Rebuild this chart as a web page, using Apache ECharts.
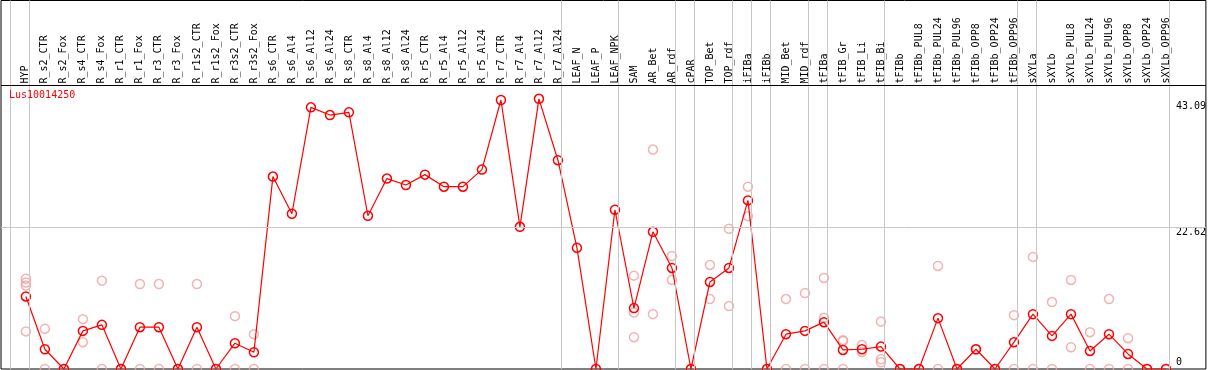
<!DOCTYPE html>
<html>
<head>
<meta charset="utf-8">
<script src="https://cdn.jsdelivr.net/npm/echarts@6/dist/echarts.min.js"></script>
<style>
html,body{margin:0;padding:0;background:#fff;}
#c{width:1209px;height:370px;}
</style>
</head>
<body>
<div id="c"></div>
<script>
const title = 'Lus10014250';
const categories = ['HYP','R_s2_CTR','R_s2_Fox','R_s4_CTR','R_s4_Fox','R_r1_CTR','R_r1_Fox','R_r3_CTR','R_r3_Fox','R_r1s2_CTR','R_r1s2_Fox','R_r3s2_CTR','R_r3s2_Fox',
 'R_s6_CTR','R_s6_Al4','R_s6_Al12','R_s6_Al24','R_s8_CTR','R_s8_Al4','R_s8_Al12','R_s8_Al24','R_r5_CTR','R_r5_Al4','R_r5_Al12','R_r5_Al24','R_r7_CTR','R_r7_Al4','R_r7_Al12','R_r7_Al24',
 'LEAF_N','LEAF_P','LEAF_NPK','SAM','AR_Bet','AR_rdf','cPAR','TOP_Bet','TOP_rdf','iFIBa','iFIBb','MID_Bet','MID_rdf','tFIBa','tFIB_Gr','tFIB_Li','tFIB_Bi','tFIBb',
 'tFIBb_PUL8','tFIBb_PUL24','tFIBb_PUL96','tFIBb_OPP8','tFIBb_OPP24','tFIBb_OPP96','sXYLa','sXYLb','sXYLb_PUL8','sXYLb_PUL24','sXYLb_PUL96','sXYLb_OPP8','sXYLb_OPP24','sXYLb_OPP96'];
const meanValues = [11.57,3.15,0,6.08,7.04,0,6.67,6.67,0,6.67,0,4.11,2.67,
 30.69,24.76,41.73,40.50,40.93,24.44,30.37,29.35,31.00,29.08,29.08,31.80,42.9,22.68,43.09,33.30,19.32,0,
 25.4,9.71,21.88,16.12,0,13.88,16.12,26.89,0,5.55,6.08,7.47,3.04,3.15,3.57,0,
 0,8.11,0,3.15,0,4.28,8.75,5.28,8.75,2.88,5.55,2.40,0,0];
const replicates = [[14.4,13.8,13.3,6.0],[6.4,0],[0,0],[7.95,4.28],[14.09,0],[0,0],[13.55,0],[13.55,0],[0,0],[13.55,0],[0,0],[8.43,0],[5.55,0],
 [],[],[],[],[],[],[],[],[],[],[],[],[],[],[],[],[],[],[],
 [14.89,9.01,5.07],[35.0,8.75],[18.04,14.2],[0,0],[16.6,11.16],[22.36,10.04],[29.08,24.38],[0,0],[11.16,0],[12.12,0],[14.52,8.16,0],[4.48,4.6,0],[3.84,2.72],[7.57,1.55,1.07],[0,0],
 [0,0],[16.44,0],[0,0],[3.15,3.15],[0,0],[8.59,0],[17.88,0],[10.68,0],[14.2,3.47],[5.87,0],[11.16,0],[4.91,0],[0,0],[0,0]];
const yTickLabels = [0, 22.62, 43.09];
const groupEndIndex = [-1,0,28,31,34,35,37,38,39,41,42,45,52,53,60];

const FONT = 'DejaVu Sans Mono';
const yMid = yTickLabels[1];
const plotTop = yMid * 2;

const mainData = meanValues.map((v,i)=>[i,v]);
const repData = [];
replicates.forEach((arr,i)=>arr.forEach(v=>repData.push([i,v])));

const vLines = groupEndIndex.map(g=>({xAxis: g + 0.19, lineStyle:{color:'#c8c8c8',width:1,type:'solid'}}));
const hLines = [
  {yAxis: yMid, lineStyle:{color:'#c8c8c8',width:1,type:'solid'}},
  {yAxis: plotTop, lineStyle:{color:'#000',width:1,type:'solid'}}
];

const chart = echarts.init(document.getElementById('c'), null, {renderer:'canvas'});
chart.setOption({
  animation:false,
  backgroundColor:'#fff',
  title:{text:title,left:9,top:90,padding:0,textStyle:{color:'#ff0000',fontFamily:FONT,fontSize:10,fontWeight:'normal'}},
  grid:{left:1,right:1,top:0.5,bottom:1,show:true,borderColor:'#000',borderWidth:1,backgroundColor:'transparent'},
  xAxis:{type:'value',min:-1.31,max:62.1,position:'top',offset:-86,
    axisLine:{show:false},axisTick:{show:false},splitLine:{show:false},
    axisLabel:{customValues:categories.map((c,i)=>i),formatter:(v)=>categories[Math.round(v)]||'',
      rotate:90,margin:3,fontFamily:FONT,fontSize:10,color:'#000'}},
  yAxis:{type:'value',min:0,max:368.5/6.27,position:'right',
    axisLine:{show:false},axisTick:{show:false},splitLine:{show:false},
    axisLabel:{inside:true,align:'left',margin:30,verticalAlign:'middle',customValues:yTickLabels,
      fontFamily:FONT,fontSize:10,color:'#000',
      formatter:(v)=>{ if(v===0) return '{z|0}'; if(v===yTickLabels[1]) return '{m|'+v.toFixed(2)+'}'; return '{t|'+v.toFixed(2)+'}'; },
      rich:{z:{padding:[0,0,14,0],fontFamily:FONT,fontSize:10},m:{padding:[11,0,0,0],fontFamily:FONT,fontSize:10},t:{padding:[16,0,0,0],fontFamily:FONT,fontSize:10}}}},
  series:[
    {type:'scatter',data:repData,symbol:'circle',symbolSize:9,silent:true,z:2,
      itemStyle:{color:'rgba(0,0,0,0)',borderColor:'#f0a0a0',borderWidth:1.5},
      markLine:{silent:true,symbol:'none',label:{show:false},animation:false,data:vLines.concat(hLines)}},
    {type:'line',data:mainData,symbol:'circle',symbolSize:9,showAllSymbol:true,silent:true,z:3,
      lineStyle:{color:'#ff0000',width:1.2},
      itemStyle:{color:'rgba(0,0,0,0)',borderColor:'#ff0000',borderWidth:1.5}}
  ]
});
</script>
</body>
</html>
